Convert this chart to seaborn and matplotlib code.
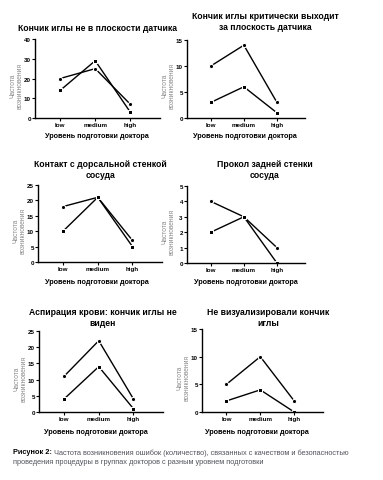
import matplotlib
matplotlib.use("Agg")
import matplotlib.pyplot as plt
import numpy as np
import pandas as pd
import seaborn as sns

# categories on the x axis
levels = ["low", "medium", "high"]

# two series per panel
needle_off_plane_a = [20, 25, 7]
needle_off_plane_b = [14, 29, 3]
needle_out_a = [10, 14, 3]
needle_out_b = [3, 6, 1]
dorsal_wall_a = [18, 21, 7]
dorsal_wall_b = [10, 21, 5]
back_wall_a = [4, 3, 1]
back_wall_b = [2, 3, 0]
aspiration_a = [11, 22, 4]
aspiration_b = [4, 14, 1]
no_tip_a = [5, 10, 2]
no_tip_b = [2, 4, 0]

titles = ["Кончик иглы не в плоскости датчика",
          "Кончик иглы критически выходит\nза плоскость датчика",
          "Контакт с дорсальной стенкой\nсосуда",
          "Прокол задней стенки\nсосуда",
          "Аспирация крови: кончик иглы не\nвиден",
          "Не визуализировали кончик\nиглы"]
y_max = [40, 15, 25, 5, 25, 15]
y_step = [10, 5, 5, 1, 5, 5]
series = [(needle_off_plane_a, needle_off_plane_b),
          (needle_out_a, needle_out_b),
          (dorsal_wall_a, dorsal_wall_b),
          (back_wall_a, back_wall_b),
          (aspiration_a, aspiration_b),
          (no_tip_a, no_tip_b)]

sns.set_theme(style="ticks")
plt.rcParams["font.family"] = ["Liberation Sans", "DejaVu Sans"]
plt.rcParams["text.color"] = "black"
plt.rcParams["xtick.color"] = "black"
plt.rcParams["ytick.color"] = "black"

W, H = 383, 481
fig = plt.figure(figsize=(W / 100, H / 100), dpi=100)

# pixel boxes: left, right, top, bottom
boxes = [(35, 160, 40, 119), (187, 305, 41, 119),
         (38, 162, 186, 263), (187, 305, 187, 264),
         (39, 163, 332, 413), (202, 323, 330, 413)]
title_pos = [(97, 29), (265, 22), (100, 170), (265, 170), (103, 318), (268, 318)]
xlabel_pos = [(97, 137), (245, 137), (97, 283), (246, 283), (96, 432), (257, 432)]

for i, (l, r, t, b) in enumerate(boxes):
    ax = fig.add_axes([l / W, 1 - b / H, (r - l) / W, (b - t) / H])
    a, bb = series[i]
    df = pd.DataFrame({"level": levels * 2,
                       "value": list(a) + list(bb),
                       "group": ["A"] * 3 + ["B"] * 3})
    sns.lineplot(data=df, x="level", y="value", hue="group", style="group",
                 markers=["o", "s"], dashes=False, palette=["black", "black"],
                 markersize=3, linewidth=1.0, legend=False, ax=ax)
    ax.set_xlim(-0.72, 2.85)
    ax.set_ylim(0, y_max[i])
    ax.set_yticks(np.arange(0, y_max[i] + 1, y_step[i]))
    ax.set_xticks(range(3))
    ax.set_xticklabels(levels, fontweight="bold")
    ax.set_xlabel("")
    ax.set_ylabel("")
    ax.tick_params(labelsize=4.5, length=2, width=0.8, pad=1,
                   color="black", labelcolor="black")
    for lab in ax.get_yticklabels():
        lab.set_fontweight("bold")
    sns.despine(ax=ax)
    for s in ["left", "bottom"]:
        ax.spines[s].set_linewidth(1.0)
        ax.spines[s].set_color("black")
    ax.patch.set_alpha(0)

    tx, ty = title_pos[i]
    fig.text(tx / W, 1 - ty / H, titles[i], ha="center", va="center",
             fontsize=6.2, fontweight="bold", linespacing=1.3, color="black")
    lx, ly = xlabel_pos[i]
    fig.text(lx / W, 1 - ly / H, "Уровень подготовки доктора", ha="center",
             va="center", fontsize=5.2, fontweight="bold", color="black")
    # y label drawn as two gray lines, like the original
    yc = (t + b) / 2 + 6
    fig.text((l - 22) / W, 1 - yc / H, "Частота", rotation=90, ha="center",
             va="center", fontsize=4.8, color="#8a8a8a")
    fig.text((l - 15) / W, 1 - yc / H, "возникновения", rotation=90, ha="center",
             va="center", fontsize=4.8, color="#8a8a8a")

# caption: bold label, then gray text right after it
cap = fig.text(13 / W, 1 - 453 / H, "Рисунок 2: ", fontsize=5.3,
               fontweight="bold", va="center", ha="left", color="black")
fig.add_artist(matplotlib.text.Annotation(
    "Частота возникновения ошибок (количество), связанных с качеством и безопасностью",
    xy=(1, 0.5), xycoords=cap, va="center", ha="left",
    fontsize=5.3, color="#50545c", annotation_clip=False))
fig.text(13 / W, 1 - 463 / H,
         "проведения процедуры в группах докторов с разным уровнем подготовки",
         fontsize=5.3, color="#50545c", va="center", ha="left")

fig.savefig("out.png", dpi=100)
